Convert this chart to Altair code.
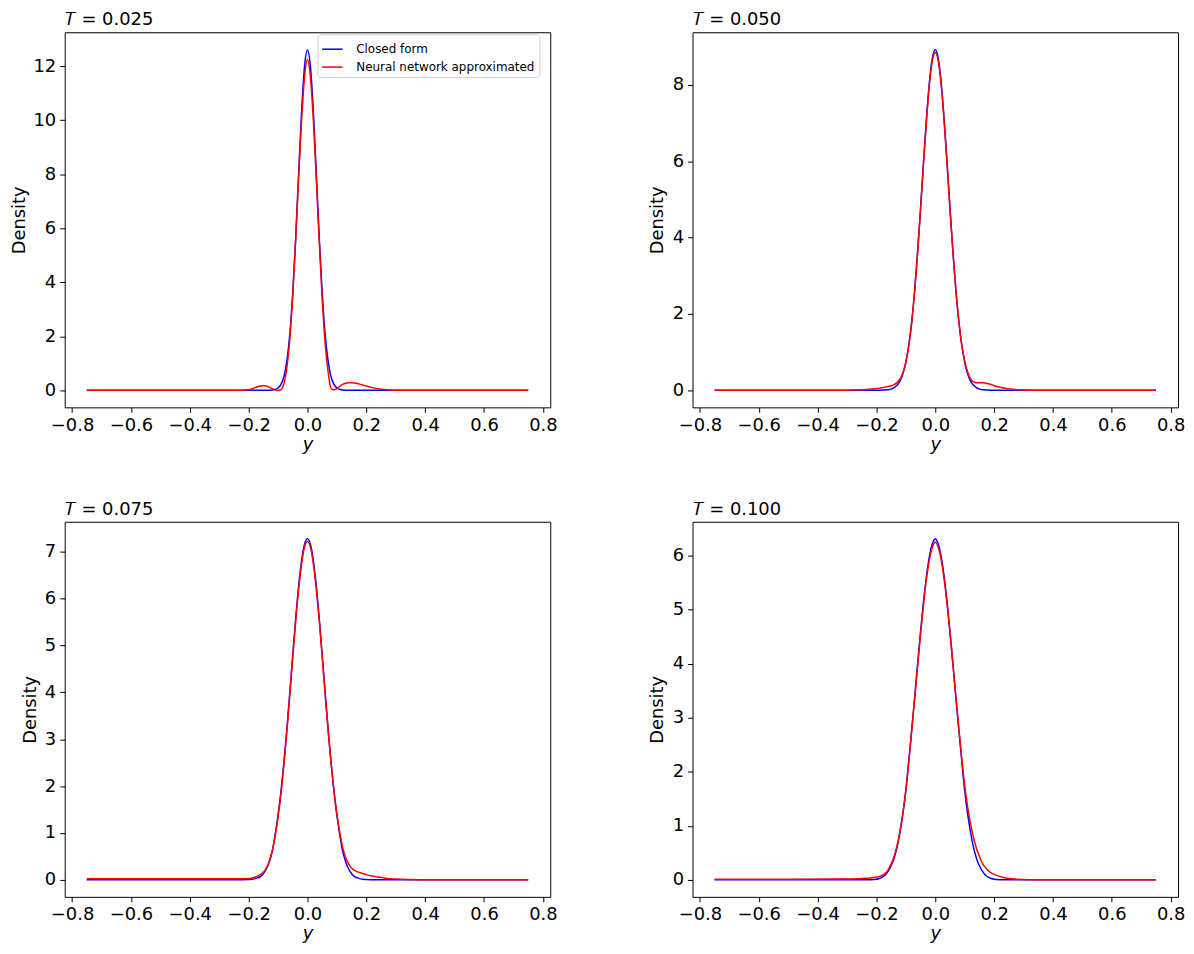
import altair as alt
import pandas as pd

# shared grid of y positions (x axis)
X = [-0.75, -0.5, -0.3, -0.25, -0.22,
     -0.2, -0.19, -0.18, -0.17, -0.16, -0.15, -0.14, -0.13, -0.12, -0.11,
     -0.1, -0.09, -0.08, -0.07, -0.06, -0.05, -0.04, -0.03, -0.02, -0.01,
     0.0,
     0.01, 0.02, 0.03, 0.04, 0.05, 0.06, 0.07, 0.08, 0.09, 0.1,
     0.11, 0.12, 0.13, 0.14, 0.15, 0.16, 0.17, 0.18, 0.19, 0.2,
     0.22, 0.24, 0.26, 0.28, 0.3, 0.35, 0.4, 0.5, 0.75]

# T = 0.025
CF_025 = [0, 0, 0, 0, 0,
          0, 0, 0, 0, 0, 0, 0.002, 0.005, 0.01, 0.03,
          0.085, 0.22, 0.51, 1.09, 2.08, 3.61, 5.66, 8.03, 10.32, 11.99,
          12.6,
          11.99, 10.32, 8.03, 5.66, 3.61, 2.08, 1.09, 0.51, 0.22, 0.085,
          0.03, 0.01, 0.005, 0.002, 0, 0, 0, 0, 0, 0,
          0, 0, 0, 0, 0, 0, 0, 0, 0]
NN_025 = [0, 0, 0, 0, 0.005,
          0.02, 0.05, 0.09, 0.13, 0.16, 0.17, 0.16, 0.12, 0.06, 0.02,
          0.0, 0.03, 0.25, 0.85, 1.9, 3.5, 5.6, 7.9, 10.0, 11.6,
          12.25,
          11.6, 10.0, 7.85, 5.5, 3.4, 1.75, 0.7, 0.08, 0.02, 0.07,
          0.15, 0.22, 0.26, 0.28, 0.28, 0.27, 0.25, 0.22, 0.19, 0.16,
          0.1, 0.06, 0.03, 0.01, 0, 0, 0, 0, 0]

# T = 0.050
CF_050 = [0, 0, 0, 0, 0.001,
          0.002, 0.003, 0.005, 0.01, 0.015, 0.03, 0.07, 0.13, 0.24, 0.43,
          0.73, 1.18, 1.80, 2.62, 3.63, 4.77, 5.98, 7.12, 8.07, 8.70,
          8.92,
          8.70, 8.07, 7.12, 5.98, 4.77, 3.63, 2.62, 1.80, 1.18, 0.73,
          0.43, 0.24, 0.13, 0.07, 0.03, 0.015, 0.01, 0.005, 0.003, 0.002,
          0.001, 0, 0, 0, 0, 0, 0, 0, 0]
NN_050 = [0, 0, 0.003, 0.012, 0.03,
          0.045, 0.055, 0.07, 0.085, 0.1, 0.12, 0.15, 0.2, 0.29, 0.46,
          0.74, 1.17, 1.78, 2.6, 3.6, 4.73, 5.93, 7.05, 8.0, 8.63,
          8.85,
          8.63, 8.0, 7.05, 5.93, 4.74, 3.62, 2.63, 1.82, 1.2, 0.77,
          0.48, 0.3, 0.22, 0.2, 0.2, 0.2, 0.19, 0.17, 0.15, 0.12,
          0.08, 0.05, 0.03, 0.015, 0.005, 0, 0, 0, 0]

# T = 0.075
CF_075 = [0, 0, 0, 0.001, 0.002,
          0.005, 0.01, 0.02, 0.04, 0.07, 0.13, 0.23, 0.38, 0.6, 0.95,
          1.38, 1.89, 2.51, 3.22, 4.00, 4.80, 5.58, 6.27, 6.81, 7.16,
          7.28,
          7.16, 6.81, 6.27, 5.58, 4.80, 4.00, 3.22, 2.51, 1.89, 1.38,
          0.95, 0.6, 0.38, 0.23, 0.13, 0.07, 0.04, 0.02, 0.01, 0.005,
          0.002, 0.001, 0, 0, 0, 0, 0, 0, 0]
NN_075 = [0.02, 0.02, 0.02, 0.02, 0.022,
          0.028, 0.035, 0.05, 0.075, 0.11, 0.16, 0.25, 0.39, 0.61, 0.93,
          1.34, 1.84, 2.46, 3.17, 3.95, 4.75, 5.52, 6.2, 6.74, 7.1,
          7.22,
          7.1, 6.74, 6.2, 5.53, 4.76, 3.97, 3.2, 2.5, 1.9, 1.4,
          1.0, 0.68, 0.47, 0.34, 0.25, 0.2, 0.17, 0.15, 0.13, 0.11,
          0.08, 0.06, 0.04, 0.025, 0.015, 0.005, 0, 0, 0]

# T = 0.100
CF_100 = [0, 0, 0, 0.001, 0.003,
          0.012, 0.025, 0.05, 0.09, 0.16, 0.26, 0.4, 0.6, 0.88, 1.22,
          1.65, 2.2, 2.78, 3.38, 4.0, 4.6, 5.15, 5.62, 5.99, 6.22,
          6.31,
          6.22, 5.99, 5.62, 5.15, 4.6, 4.0, 3.38, 2.78, 2.2, 1.65,
          1.22, 0.88, 0.6, 0.4, 0.26, 0.16, 0.09, 0.05, 0.025, 0.012,
          0.003, 0.001, 0, 0, 0, 0, 0, 0, 0]
NN_100 = [0.01, 0.01, 0.015, 0.025, 0.035,
          0.05, 0.06, 0.08, 0.12, 0.19, 0.29, 0.43, 0.63, 0.9, 1.24,
          1.66, 2.19, 2.76, 3.36, 3.96, 4.55, 5.1, 5.57, 5.93, 6.16,
          6.25,
          6.16, 5.93, 5.57, 5.11, 4.57, 3.98, 3.38, 2.8, 2.25, 1.75,
          1.35, 1.03, 0.78, 0.58, 0.43, 0.31, 0.23, 0.17, 0.13, 0.1,
          0.06, 0.035, 0.02, 0.01, 0.005, 0, 0, 0, 0]

SERIES = ["Closed form", "Neural network approximated"]
COLORS = ["#0000ff", "#ff0000"]
T_LABELS = ["0.025", "0.050", "0.075", "0.100"]
X_TICKS = [-0.8, -0.6, -0.4, -0.2, 0.0, 0.2, 0.4, 0.6, 0.8]
Y_TICKS = [[0, 2, 4, 6, 8, 10, 12], [0, 2, 4, 6, 8],
           [0, 1, 2, 3, 4, 5, 6, 7], [0, 1, 2, 3, 4, 5, 6]]
Y_DOMAINS = [[-0.63, 13.26], [-0.447, 9.38], [-0.364, 7.64], [-0.316, 6.63]]
X_DOMAIN = [-0.825, 0.825]

PANELS = [(CF_025, NN_025), (CF_050, NN_050), (CF_075, NN_075), (CF_100, NN_100)]
Y_EXTENT = [32, 21, 21, 21]
Y_TITLEPAD = [4, 5, 4, 5]

FONT = "DejaVu Sans"


def panel(i):
    cf, nn = PANELS[i]
    df = pd.DataFrame({
        "y": X + X,
        "density": cf + nn,
        "series": [SERIES[0]] * len(X) + [SERIES[1]] * len(X),
    })
    if i == 0:
        leg = alt.Legend(orient="none", legendX=254, legendY=2,
                         symbolType="stroke",
                         symbolStrokeWidth=1.5, symbolSize=420,
                         labelFontSize=12, labelFont=FONT, labelColor="#000000",
                         labelOffset=13,
                         fillColor="#ffffff", strokeColor="#d0d0d0",
                         cornerRadius=3, padding=4, rowPadding=1,
                         labelLimit=400)
        color = alt.Color("series:N", title=None,
                          scale=alt.Scale(domain=SERIES, range=COLORS),
                          legend=leg)
    else:
        color = alt.Color("series:N",
                          scale=alt.Scale(domain=SERIES, range=COLORS),
                          legend=None)
    return alt.Chart(df, title=alt.Title("\U0001D447 = " + T_LABELS[i])).mark_line(
        strokeWidth=1.5, interpolate="monotone", clip=True
    ).encode(
        x=alt.X("y:Q",
                scale=alt.Scale(domain=X_DOMAIN, nice=False, zero=False),
                axis=alt.Axis(values=X_TICKS, format=".1f",
                              labelExpr="replace(datum.label, '-', '\u2212')",
                              title="y", titleFontStyle="italic")),
        y=alt.Y("density:Q",
                scale=alt.Scale(domain=Y_DOMAINS[i], nice=False, zero=False),
                axis=alt.Axis(values=Y_TICKS[i], format="d", title="Density",
                              minExtent=Y_EXTENT[i], maxExtent=Y_EXTENT[i],
                              titlePadding=Y_TITLEPAD[i])),
        color=color,
    ).properties(width=488, height=377)


chart = alt.concat(
    panel(0), panel(1), panel(2), panel(3), columns=2,
    spacing={"row": 46, "column": 90}
).resolve_scale(
    y="independent", color="independent"
).resolve_legend(
    color="independent"
).configure(
    font=FONT,
    padding={"left": 2, "top": 0, "right": 0, "bottom": 0},
).configure_view(
    stroke="#000000", strokeWidth=1
).configure_axis(
    domain=False, grid=False, ticks=True, tickSize=5, tickColor="#000000",
    tickWidth=1, labelFontSize=18, labelColor="#000000", labelFont=FONT,
    labelPadding=4, titleFontSize=18, titleColor="#000000", titleFont=FONT,
    titleFontWeight="normal", labelFlush=False, labelOverlap=False
).configure_axisX(
    titlePadding=1
).configure_title(
    anchor="start", frame="group", fontSize=18, fontWeight="normal",
    font=FONT, color="#000000", offset=3
)

chart.save("out.html", embed_options={"renderer": "svg", "actions": False})
